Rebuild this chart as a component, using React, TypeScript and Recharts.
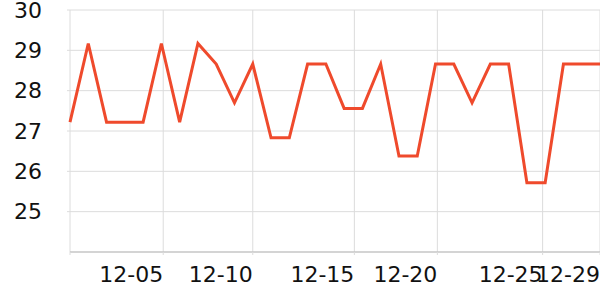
import React from 'react'
import { LineChart, Line, CartesianGrid, XAxis, YAxis } from 'recharts'

// day of December, 1..30
const DAYS = [
  1, 2, 3, 4, 5, 6, 7, 8, 9, 10,
  11, 12, 13, 14, 15, 16, 17, 18, 19, 20,
  21, 22, 23, 24, 25, 26, 27, 28, 29, 30,
]
const VALUES = [
  27.22, 29.17, 27.22, 27.22, 27.22, 29.17, 27.22, 29.17, 28.66, 27.7,
  28.66, 26.83, 26.83, 28.66, 28.66, 27.56, 27.56, 28.66, 26.38, 26.38,
  28.66, 28.66, 27.7, 28.66, 28.66, 25.72, 25.72, 28.66, 28.66, 28.66,
]

// tick positions on the day scale, and their labels
const X_TICKS = [1, 6.1, 11, 16.56, 21.1, 26.86, 30]
const X_LABELS = ['', '12-05', '12-10', '12-15', '12-20', '12-25', '12-29']
const Y_TICKS = [25, 26, 27, 28, 29, 30]

const data = DAYS.map((d, i) => ({ day: d, value: VALUES[i] }))

const FONT = 'DejaVu Sans'
const GRID = '#dcdcdc'

const XTick = (props: any) => {
  const { x, y, payload } = props
  const i = X_TICKS.indexOf(payload.value)
  return (
    <text x={x} y={y} dy={15.6} textAnchor="end" fontFamily={FONT} fontSize={22} fill="#111">
      {i >= 0 ? X_LABELS[i] : ''}
    </text>
  )
}

const App: React.FC = () => (
  <div style={{ position: 'absolute', left: 0, top: 0, width: 600, height: 300, background: '#fff' }}>
    <LineChart width={600} height={300} data={data} margin={{ top: 10, right: 0, left: 0, bottom: 0 }}>
      <CartesianGrid stroke={GRID} />
      <XAxis
        dataKey="day"
        type="number"
        domain={[1, 30]}
        ticks={X_TICKS}
        interval={0}
        height={48}
        stroke="#bbb"
        tickLine={{ stroke: GRID }}
        tickSize={3}
        tickMargin={11}
        tick={<XTick />}
      />
      <YAxis
        type="number"
        domain={[24, 30]}
        ticks={Y_TICKS}
        interval={0}
        width={70}
        axisLine={false}
        tickLine={{ stroke: GRID }}
        tickSize={3}
        tickMargin={25}
        tick={{ fontFamily: FONT, fontSize: 22, fill: '#111' }}
      />
      <Line
        dataKey="value"
        type="linear"
        stroke="#ef4a2c"
        strokeWidth={3}
        dot={false}
        isAnimationActive={false}
      />
    </LineChart>
  </div>
)

export default App
